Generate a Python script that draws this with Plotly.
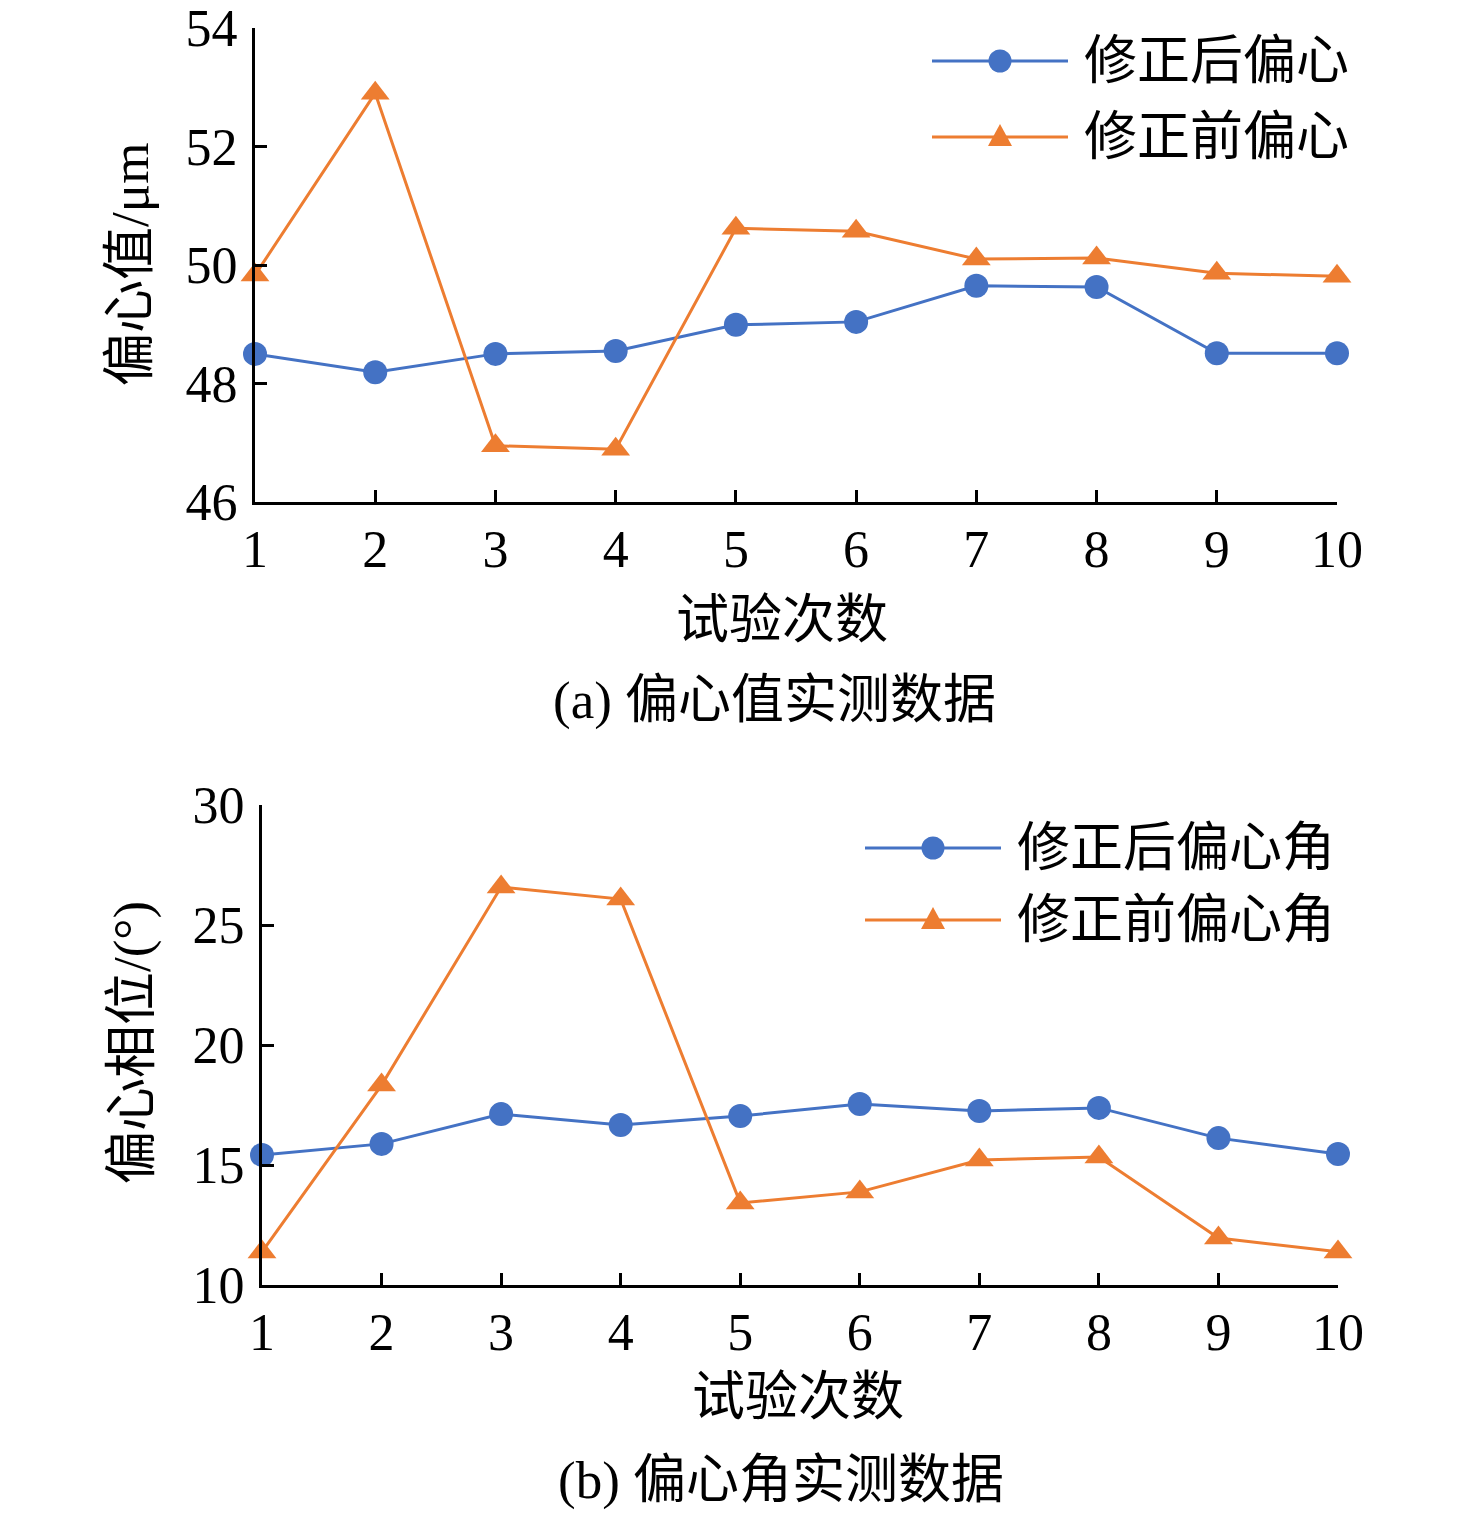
import plotly.graph_objects as go

# trial numbers
trials = [1, 2, 3, 4, 5, 6, 7, 8, 9, 10]

# (a) eccentricity value, um
ecc_after = [48.50, 48.19, 48.50, 48.55, 48.99, 49.04, 49.65, 49.63, 48.51, 48.51]
ecc_before = [49.83, 52.90, 46.95, 46.89, 50.62, 50.57, 50.10, 50.12, 49.86, 49.81]

# (b) eccentricity phase, degrees
ang_after = [15.42, 15.88, 17.12, 16.67, 17.04, 17.54, 17.25, 17.38, 16.12, 15.46]
ang_before = [11.38, 18.33, 26.58, 26.08, 13.42, 13.88, 15.21, 15.33, 11.96, 11.38]

W, H = 1476, 1518
BLUE = "#4472C4"
ORANGE = "#ED7D31"
FONT = "Liberation Serif, Times New Roman, Noto Sans CJK SC"
PAGE_OFF = 8  # body margin of the html page


def px_x(p):
    return (p - PAGE_OFF) / W


def px_y(p):
    return 1 - (p - PAGE_OFF) / H


fig = go.Figure()

series = [
    (ecc_after, "修正后偏心", BLUE, "circle", 24, "x", "y"),
    (ecc_before, "修正前偏心", ORANGE, "triangle-up", 25, "x", "y"),
    (ang_after, "修正后偏心角", BLUE, "circle", 24, "x2", "y2"),
    (ang_before, "修正前偏心角", ORANGE, "triangle-up", 25, "x2", "y2"),
]
for vals, name, col, sym, msize, xa, ya in series:
    fig.add_trace(go.Scatter(
        x=trials, y=vals, name=name, mode="lines+markers",
        line=dict(color=col, width=3), marker=dict(symbol=sym, size=msize, color=col),
        cliponaxis=False, xaxis=xa, yaxis=ya, showlegend=False,
    ))

axis_common = dict(
    showline=True, linecolor="black", linewidth=3, mirror=False,
    showgrid=False, zeroline=False, automargin=False,
    ticks="inside", ticklen=12, tickwidth=3, tickcolor="black",
    ticklabeloverflow="allow",
    tickfont=dict(family=FONT, size=52, color="black"),
)

fig.update_layout(
    width=W, height=H,
    margin=dict(l=0, r=0, t=0, b=0),
    paper_bgcolor="white", plot_bgcolor="white",
    font=dict(family=FONT, color="black"),
    showlegend=False,
    xaxis=dict(axis_common, domain=[px_x(255), px_x(1337)], range=[1, 10],
               tickvals=trials, anchor="y", ticklabelstandoff=0),
    yaxis=dict(axis_common, domain=[px_y(502), px_y(28)], range=[46, 54],
               tickvals=[46, 48, 50, 52, 54], anchor="x", ticklabelstandoff=4),
    xaxis2=dict(axis_common, domain=[px_x(262), px_x(1338)], range=[1, 10],
                tickvals=trials, anchor="y2", ticklabelstandoff=0),
    yaxis2=dict(axis_common, domain=[px_y(1285), px_y(805)], range=[10, 30],
                tickvals=[10, 15, 20, 25, 30], anchor="x2", ticklabelstandoff=4),
)

# legend drawn by hand so the symbols can be as large as in the original
legend_rows = [
    ("修正后偏心", BLUE, "circle", 932, 61),
    ("修正前偏心", ORANGE, "triangle", 932, 137),
    ("修正后偏心角", BLUE, "circle", 865, 848),
    ("修正前偏心角", ORANGE, "triangle", 865, 920),
]
for name, col, sym, lx, ly in legend_rows:
    fig.add_shape(type="line", xref="paper", yref="paper",
                  x0=px_x(lx), x1=px_x(lx + 136), y0=px_y(ly), y1=px_y(ly),
                  line=dict(color=col, width=3))
    cx = px_x(lx + 68)
    cy = px_y(ly)
    if sym == "circle":
        fig.add_shape(type="circle", xref="paper", yref="paper",
                      xsizemode="pixel", ysizemode="pixel", xanchor=cx, yanchor=cy,
                      x0=-11.5, x1=11.5, y0=-11.5, y1=11.5,
                      fillcolor=col, line=dict(width=0))
    else:
        fig.add_shape(type="path", xref="paper", yref="paper",
                      xsizemode="pixel", ysizemode="pixel", xanchor=cx, yanchor=cy,
                      path="M-12,-9 L12,-9 L0,13 Z",
                      fillcolor=col, line=dict(width=0))
    fig.add_annotation(
        text=name, x=px_x(lx + 150), y=cy, xref="paper", yref="paper",
        xanchor="left", yanchor="middle", showarrow=False,
        font=dict(family=FONT, size=53, color="black"),
    )

annots = [
    ("试验次数", px_x(782), px_y(620), 0),
    ("(a) 偏心值实测数据", px_x(774), px_y(700), 0),
    ("试验次数", px_x(798), px_y(1397), 0),
    ("(b) 偏心角实测数据", px_x(781), px_y(1480), 0),
    ("偏心值/μm", px_x(130), px_y(265), -90),
    ("偏心相位/(°)", px_x(132), px_y(1043), -90),
]
for text, ax, ay, ang in annots:
    fig.add_annotation(
        text=text, x=ax, y=ay, xref="paper", yref="paper",
        xanchor="center", yanchor="middle", showarrow=False, textangle=ang,
        font=dict(family=FONT, size=53, color="black"),
    )

fig.write_html("out.html")
